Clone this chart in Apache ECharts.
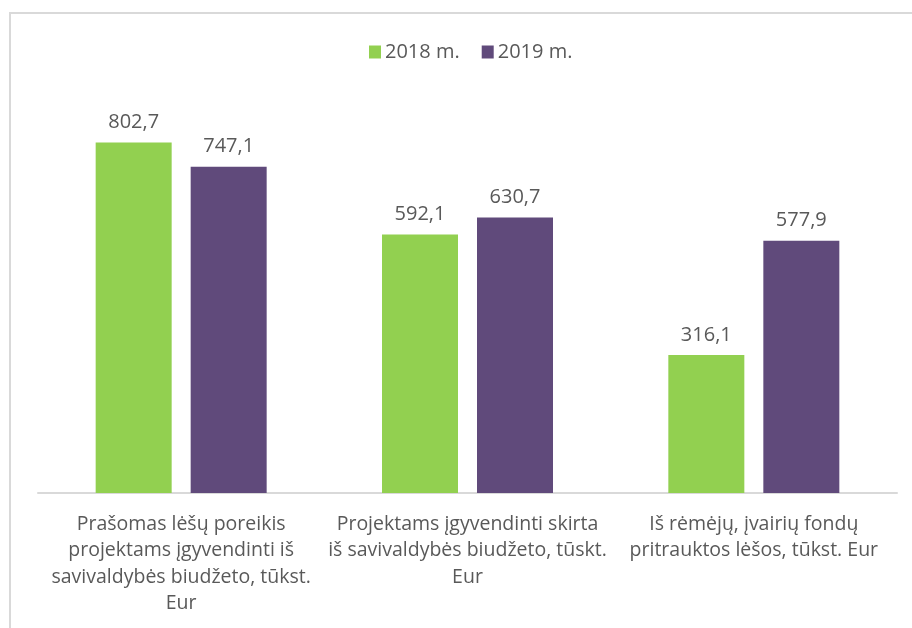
<!DOCTYPE html>
<html>
<head>
<meta charset="utf-8">
<script src="https://cdn.jsdelivr.net/npm/echarts@6/dist/echarts.min.js"></script>
<style>
  html, body { margin: 0; padding: 0; background: #fff; }
  #frame { position: absolute; left: 9px; top: 12px; width: 920px; height: 640px;
           border: 2px solid #d9d9d9; box-sizing: border-box; }
  #chart { position: absolute; left: 0; top: 0; width: 912px; height: 628px; }
</style>
</head>
<body>
<div id="frame"></div>
<div id="chart"></div>
<script>
var categories = [
  'Prašomas lėšų poreikis\nprojektams įgyvendinti iš\nsavivaldybės biudžeto, tūkst.\nEur',
  'Projektams įgyvendinti skirta\niš savivaldybės biudžeto, tūskt.\nEur',
  'Iš rėmėjų, įvairių fondų\npritrauktos lėšos, tūkst. Eur'
];
var series2018 = [802.7, 592.1, 316.1];
var series2019 = [747.1, 630.7, 577.9];

var chart = echarts.init(document.getElementById('chart'));
var textColor = '#595959';
var font = 'Open Sans';

function fmt(p) {
  return p.value.toFixed(1).replace('.', ',');
}

var option = {
  animation: false,
  legend: {
    data: ['2018 m.', '2019 m.'],
    top: 42,
    left: 369,
    padding: 0,
    itemWidth: 12,
    itemHeight: 13,
    itemGap: 22,
    icon: 'rect',
    textStyle: { color: textColor, fontFamily: font, fontSize: 20, padding: [0, 0, 0, -1] }
  },
  grid: { left: 38, right: 15, top: 100, bottom: 135 },
  xAxis: {
    type: 'category',
    data: categories,
    axisLine: { lineStyle: { color: '#d9d9d9', width: 2 } },
    axisTick: { show: false },
    axisLabel: {
      color: textColor, fontFamily: font, fontSize: 19.5,
      lineHeight: 26.5, margin: 18, interval: 0
    }
  },
  yAxis: {
    type: 'value',
    min: 0,
    max: 900,
    show: false,
    splitLine: { show: false }
  },
  series: [
    {
      name: '2018 m.',
      type: 'bar',
      data: series2018,
      barWidth: 76,
      barGap: '25%',
      itemStyle: { color: '#92d050' },
      label: { show: true, position: 'top', distance: 10, color: textColor,
               fontFamily: font, fontSize: 20, formatter: fmt }
    },
    {
      name: '2019 m.',
      type: 'bar',
      data: series2019,
      barWidth: 76,
      itemStyle: { color: '#604a7b' },
      label: { show: true, position: 'top', distance: 10, color: textColor,
               fontFamily: font, fontSize: 20, formatter: fmt }
    }
  ]
};
chart.setOption(option);
</script>
</body>
</html>
